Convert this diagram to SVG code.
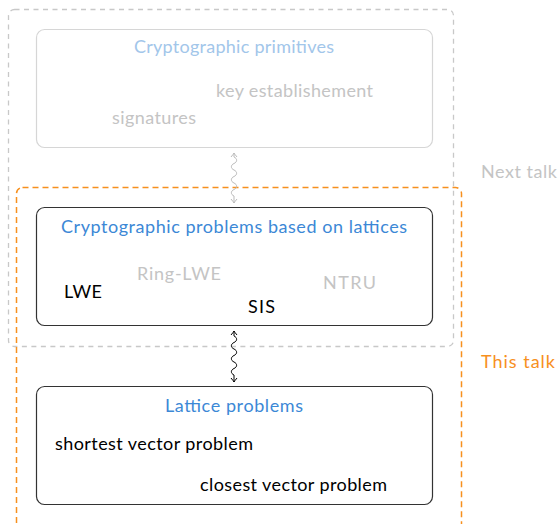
<svg xmlns="http://www.w3.org/2000/svg" width="559" height="524" viewBox="0 0 559 524">
<style>
text{font-family:Lato,"DejaVu Sans","Liberation Sans",sans-serif;font-size:18px}
.t1{fill:#a2c6ea;text-anchor:middle}
.t2{fill:#3c88d6;text-anchor:middle}
.g{fill:#c4c4c4}
.k{fill:#000}
.o{fill:#f7901e}
.box{fill:#fff;stroke-width:1.2}
</style>
<defs>
<marker id="ag" viewBox="-5 -5 10 10" markerWidth="10" markerHeight="10" refX="0" refY="0" orient="auto-start-reverse" markerUnits="userSpaceOnUse">
<path d="M-4,-3 Q-1,-0.5 0,0 Q-1,0.5 -4,3" fill="none" stroke="#bbb" stroke-width="1"/>
</marker>
<marker id="ak" viewBox="-5 -5 10 10" markerWidth="10" markerHeight="10" refX="0" refY="0" orient="auto-start-reverse" markerUnits="userSpaceOnUse">
<path d="M-4,-3 Q-1,-0.5 0,0 Q-1,0.5 -4,3" fill="none" stroke="#000" stroke-width="1"/>
</marker>
</defs>
<rect x="8.5" y="9.5" width="445" height="337" rx="6" fill="none" stroke="#c8c8c8" stroke-width="1.3" stroke-dasharray="5,4.5"/>
<rect x="16.5" y="187.5" width="445" height="345" rx="6" fill="none" stroke="#f7901e" stroke-width="1.5" stroke-dasharray="6,4"/>
<text class="g" x="481" y="178" textLength="76">Next talk</text>
<text class="o" x="481" y="368" textLength="74">This talk</text>
<g id="primitives">
<rect class="box" x="36.5" y="29.5" width="396" height="118" rx="8" stroke="#d6d6d6"/>
<text class="t1" x="234" y="53" textLength="200">Cryptographic primitives</text>
<text class="g" x="216" y="97" textLength="157">key establishement</text>
<text class="g" x="112" y="124" textLength="84">signatures</text>
</g>
<g id="lattice-crypto">
<rect class="box" x="36.5" y="207.5" width="396" height="118" rx="8" stroke="#333"/>
<text class="t2" x="234" y="233" textLength="346">Cryptographic problems based on lattices</text>
<text class="g" x="137" y="280" textLength="84">Ring-LWE</text>
<text class="k" x="64" y="298" textLength="38">LWE</text>
<text class="k" x="248" y="313" textLength="27">SIS</text>
<text class="g" x="323" y="289" textLength="53">NTRU</text>
</g>
<g id="lattice-problems">
<rect class="box" x="36.5" y="386.5" width="396" height="118" rx="8" stroke="#333"/>
<text class="t2" x="234" y="412" textLength="138">Lattice problems</text>
<text class="k" x="55" y="450" textLength="198">shortest vector problem</text>
<text class="k" x="200" y="491" textLength="187">closest vector problem</text>
</g>
<g id="connectors" fill="none" stroke-width="1">
<path d="M234,153 L234,157 c3.5,1.5 3.5,5 0,6.5 c-3.5,1.5 -3.5,5 0,6.5 c3.5,1.5 3.5,5 0,6.5 c-3.5,1.5 -3.5,5 0,6.5 c3.5,1.5 3.5,5 0,6.5 c-3.5,1.5 -3.5,5 0,6.5 L234,203" stroke="#bbb" marker-start="url(#ag)" marker-end="url(#ag)"/>
<path d="M234,331 L234,336 c3.5,1.5 3.5,5 0,6.5 c-3.5,1.5 -3.5,5 0,6.5 c3.5,1.5 3.5,5 0,6.5 c-3.5,1.5 -3.5,5 0,6.5 c3.5,1.5 3.5,5 0,6.5 c-3.5,1.5 -3.5,5 0,6.5 L234,382" stroke="#000" marker-start="url(#ak)" marker-end="url(#ak)"/>
</g>
</svg>
